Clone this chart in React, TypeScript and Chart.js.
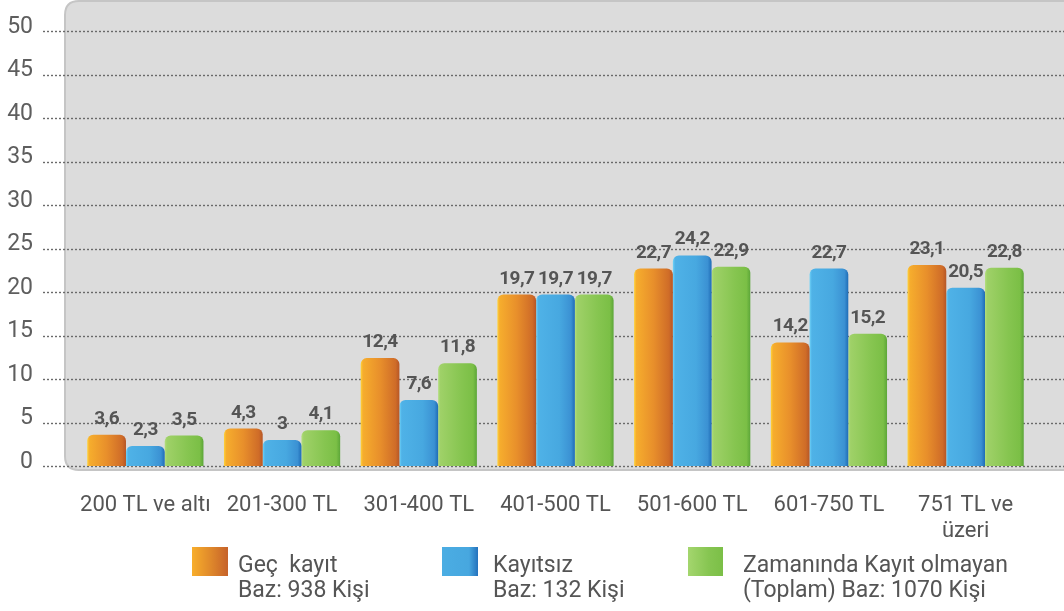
import React, { useEffect, useRef } from "react";
import { Chart, registerables } from "chart.js";

Chart.register(...registerables);

const categories: (string | string[])[] = [
  "200 TL ve altı",
  "201-300 TL",
  "301-400 TL",
  "401-500 TL",
  "501-600 TL",
  "601-750 TL",
  ["751 TL ve", "üzeri"],
];
const gecKayit = [3.6, 4.3, 12.4, 19.7, 22.7, 14.2, 23.1];
const kayitsiz = [2.3, 3, 7.6, 19.7, 24.2, 22.7, 20.5];
const zamaninda = [3.5, 4.1, 11.8, 19.7, 22.9, 15.2, 22.8];
const seriesNames = ["Geç kayıt", "Kayıtsız", "Zamanında Kayıt olmayan"];
const legendLines = [
  ["Geç  kayıt", "Baz: 938 Kişi"],
  ["Kayıtsız", "Baz: 132 Kişi"],
  ["Zamanında Kayıt olmayan", "(Toplam) Baz: 1070 Kişi"],
];
const yMin = 0;
const yMax = 50;
const yStep = 5;

const FONT = "Roboto, 'Noto Sans', sans-serif";

const barStops: [number, string][][] = [
  [[0, "#ffd23a"], [0.06, "#f6ad2d"], [0.5, "#e88f2b"], [0.9, "#cf6c28"], [1, "#b65626"]],
  [[0, "#6fd3f8"], [0.06, "#4fb2e7"], [0.6, "#47a8e0"], [0.9, "#3b91d3"], [1, "#1f6cb6"]],
  [[0, "#b3de7e"], [0.06, "#9fd168"], [0.6, "#86c550"], [0.9, "#7bbf46"], [1, "#5ca638"]],
];
const legendGradients = [
  "linear-gradient(to right, #f8ae2b, #e08a2b 50%, #c6622a)",
  "linear-gradient(to right, #4bade3, #47a7df 75%, #2472bd)",
  "linear-gradient(to right, #a4d66e, #86c551 60%, #7bbf47)",
];

const bgPlugin = {
  id: "bgBox",
  beforeDraw(chart: any) {
    const { ctx, chartArea } = chart;
    const x = chartArea.left - 12;
    const y = 1;
    const w = chart.width + 40 - x;
    const h = chartArea.bottom + 4 - y;
    const r = 14;
    ctx.save();
    ctx.beginPath();
    ctx.moveTo(x + r, y);
    ctx.lineTo(x + w, y);
    ctx.lineTo(x + w, y + h);
    ctx.lineTo(x + r, y + h);
    ctx.quadraticCurveTo(x, y + h, x, y + h - r);
    ctx.lineTo(x, y + r);
    ctx.quadraticCurveTo(x, y, x + r, y);
    ctx.closePath();
    ctx.fillStyle = "#dcdcdc";
    ctx.fill();
    ctx.lineWidth = 2;
    ctx.strokeStyle = "#c5c5c5";
    ctx.stroke();
    ctx.restore();
  },
};

const gridPlugin = {
  id: "dotGrid",
  beforeDatasetsDraw(chart: any) {
    const { ctx, chartArea } = chart;
    const yScale = chart.scales.y;
    ctx.save();
    ctx.setLineDash([2, 2]);
    ctx.lineWidth = 1.4;
    ctx.strokeStyle = "#6a6a6a";
    yScale.ticks.forEach((t: any) => {
      const py = Math.round(yScale.getPixelForValue(t.value)) + 0.5;
      ctx.beginPath();
      ctx.moveTo(chartArea.left - 34, py);
      ctx.lineTo(chart.width, py);
      ctx.stroke();
    });
    ctx.restore();
  },
};

const gradientPlugin = {
  id: "barGradients",
  beforeDatasetsDraw(chart: any) {
    const { ctx } = chart;
    chart.data.datasets.forEach((_: any, di: number) => {
      const meta = chart.getDatasetMeta(di);
      meta.data.forEach((el: any) => {
        const p = el.getProps(["x", "width"], true);
        const x0 = p.x - p.width / 2;
        const g = ctx.createLinearGradient(x0, 0, x0 + p.width, 0);
        barStops[di].forEach(([o, c]) => g.addColorStop(o, c));
        el.options = Object.assign({}, el.options, { backgroundColor: g });
      });
    });
  },
};

const labelPlugin = {
  id: "valueLabels",
  afterDatasetsDraw(chart: any) {
    const { ctx } = chart;
    ctx.save();
    ctx.font = `bold 19px ${FONT}`;
    ctx.fillStyle = "#555555";
    ctx.textAlign = "center";
    ctx.textBaseline = "alphabetic";
    try {
      (ctx as any).letterSpacing = "-0.6px";
    } catch (e) {}
    chart.data.datasets.forEach((ds: any, di: number) => {
      const meta = chart.getDatasetMeta(di);
      meta.data.forEach((el: any, i: number) => {
        const p = el.getProps(["x", "y"], true);
        const txt = String(ds.data[i]).replace(".", ",");
        ctx.fillText(txt, p.x, p.y - 11);
      });
    });
    ctx.restore();
  },
};

export default function App() {
  const ref = useRef<HTMLCanvasElement | null>(null);

  useEffect(() => {
    if (!ref.current) return;
    const radius = { topLeft: 6, topRight: 6, bottomLeft: 0, bottomRight: 0 };
    const chart = new Chart(ref.current, {
      type: "bar",
      data: {
        labels: categories,
        datasets: [
          { label: seriesNames[0], data: gecKayit, backgroundColor: "#e88f2b", borderRadius: radius, borderSkipped: false, categoryPercentage: 0.85, barPercentage: 1.0 },
          { label: seriesNames[1], data: kayitsiz, backgroundColor: "#47a8e0", borderRadius: radius, borderSkipped: false, categoryPercentage: 0.85, barPercentage: 1.0 },
          { label: seriesNames[2], data: zamaninda, backgroundColor: "#86c550", borderRadius: radius, borderSkipped: false, categoryPercentage: 0.85, barPercentage: 1.0 },
        ],
      } as any,
      options: {
        responsive: false,
        animation: false,
        layout: { padding: { top: 0, right: 30, left: 0, bottom: 0 } },
        plugins: {
          legend: { display: false },
          tooltip: { enabled: false },
        },
        scales: {
          x: {
            grid: { display: false, drawTicks: false },
            border: { display: false },
            ticks: {
              color: "#555555",
              font: { family: FONT, size: 22 },
              padding: 26,
              maxRotation: 0,
              autoSkip: false,
            },
            afterFit: (s: any) => {
              s.height = 145;
            },
          },
          y: {
            min: yMin,
            max: yMax,
            grid: { display: false, drawTicks: false },
            border: { display: false },
            ticks: {
              stepSize: yStep,
              color: "#5e5e5e",
              font: { family: FONT, size: 23 },
              padding: 44,
              labelOffset: -4,
            },
            afterFit: (s: any) => {
              s.width = 77;
              s.paddingTop = 31;
              s.paddingBottom = 14;
            },
          },
        },
      } as any,
      plugins: [bgPlugin, gridPlugin, gradientPlugin, labelPlugin],
    });
    return () => chart.destroy();
  }, []);

  const legendPos = [
    { sq: 192, w: 36, tx: 238 },
    { sq: 442, w: 36, tx: 493 },
    { sq: 688, w: 35, tx: 743 },
  ];

  return (
    <div style={{ position: "absolute", left: 0, top: 0, width: 1064, height: 611, background: "#ffffff", fontFamily: FONT }}>
      <canvas ref={ref} width={1064} height={611} style={{ display: "block" }} />
      {legendPos.map((p, i) => (
        <React.Fragment key={i}>
          <div style={{ position: "absolute", left: p.sq, top: 547, width: p.w, height: 29, background: legendGradients[i] }} />
          <div style={{ position: "absolute", left: p.tx, top: 552, fontSize: 23, lineHeight: "25px", color: "#555555", whiteSpace: "pre" }}>
            {legendLines[i][0]}
            <br />
            {legendLines[i][1]}
          </div>
        </React.Fragment>
      ))}
    </div>
  );
}
